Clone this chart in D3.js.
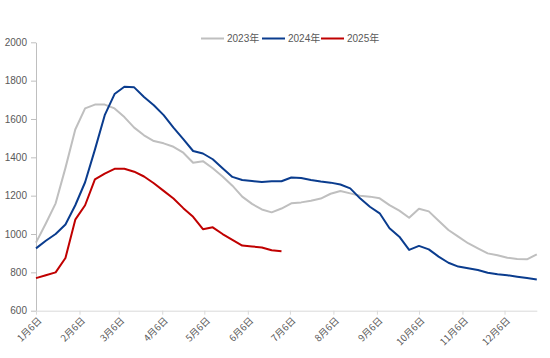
<!DOCTYPE html>
<html>
<head>
<meta charset="utf-8">
<script src="https://cdn.jsdelivr.net/npm/d3@7"></script>
<style>
html,body{margin:0;padding:0;background:#fff;}
svg{display:block;}
text{font-family:"Liberation Sans","Noto Sans CJK SC",sans-serif;fill:#595959;}
</style>
</head>
<body>
<svg id="chart" width="550" height="358"></svg>
<script>
// ---- data ----
const seriesNames = ["2023年", "2024年", "2025年"];
const seriesColors = ["#bfbfbf", "#0a3c8e", "#c00000"];
const values2023 = [955,1055,1160,1345,1545,1655,1675,1675,1655,1610,1555,1515,1485,1473,1455,1424,1372,1380,1343,1300,1252,1195,1157,1128,1113,1133,1160,1165,1174,1185,1210,1224,1212,1200,1195,1186,1151,1122,1085,1132,1118,1069,1021,986,952,925,899,889,876,870,868,894];
const values2024 = [925,965,1000,1050,1150,1270,1440,1620,1730,1768,1765,1715,1672,1620,1555,1495,1433,1420,1390,1343,1298,1282,1276,1271,1275,1275,1295,1292,1282,1274,1268,1258,1238,1186,1142,1108,1030,986,917,938,920,882,850,830,821,812,798,790,785,777,770,763];
const values2025 = [770,785,800,875,1075,1150,1285,1315,1340,1340,1325,1300,1265,1225,1185,1135,1090,1025,1035,1000,970,940,935,930,915,910];
const tickMonths = [1,2,3,4,5,6,7,8,9,10,11,12];
const tickLabels = ["1月6日","2月6日","3月6日","4月6日","5月6日","6月6日","7月6日","8月6日","9月6日","10月6日","11月6日","12月6日"];
const yTicks = [600,800,1000,1200,1400,1600,1800,2000];

const allSeries = [values2023, values2024, values2025];

// weekly dates starting Jan 6
const start = new Date(2025, 0, 6);
const weekDate = i => d3.timeDay.offset(start, 7 * i);

const svg = d3.select("#chart");
const x = d3.scaleTime().domain([start, weekDate(51)]).range([36, 536.8]);
const y = d3.scaleLinear().domain([600, 2000]).range([310.7, 42.3]);

// y axis
const yAxis = svg.append("g").attr("transform", "translate(36,0)")
  .call(d3.axisLeft(y).tickValues(yTicks).tickSize(5).tickSizeOuter(0).tickPadding(4)
    .tickFormat(d3.format("d")));
yAxis.select(".domain").attr("stroke", "#bfbfbf").attr("stroke-width", 1);
yAxis.selectAll(".tick line").attr("stroke", "#bfbfbf");
yAxis.selectAll(".tick text").style("font-size", "10px").attr("fill", "#595959")
  .style("font-family", "'Liberation Sans',sans-serif");

// x axis
const tickDates = tickMonths.map(m => new Date(2025, m - 1, 6));
const xAxis = svg.append("g").attr("transform", "translate(0,310.7)")
  .call(d3.axisBottom(x).tickValues(tickDates).tickSize(4).tickSizeOuter(0)
    .tickFormat((d, i) => tickLabels[i]));
xAxis.select(".domain").attr("stroke", "#d9d9d9").attr("stroke-width", 1);
xAxis.selectAll(".tick line").attr("stroke", "#d9d9d9");
xAxis.selectAll(".tick text")
  .style("font-size", "9.5px")
  .style("font-family", "'Noto Sans CJK SC',sans-serif")
  .attr("fill", "#595959")
  .attr("text-anchor", "end")
  .attr("dy", "0.35em")
  .attr("transform", "translate(2,4) rotate(-45)")
  .attr("x", -2).attr("y", 4);

// lines
const line = d3.line().x((d, i) => x(weekDate(i))).y(d => y(d));
allSeries.forEach((vals, k) => {
  svg.append("path").datum(vals)
    .attr("fill", "none")
    .attr("stroke", seriesColors[k])
    .attr("stroke-width", 2)
    .attr("stroke-linejoin", "round")
    .attr("d", line);
});

// legend
const legendX = [201, 262, 321];
const lg = svg.append("g");
seriesNames.forEach((name, k) => {
  const g = lg.append("g").attr("transform", `translate(${legendX[k]},38.5)`);
  g.append("line").attr("x1", 0).attr("x2", 23).attr("y1", 0).attr("y2", 0)
    .attr("stroke", seriesColors[k]).attr("stroke-width", 2);
  g.append("text").attr("x", 26).attr("y", 0).attr("dy", "0.35em")
    .style("font-size", "10px")
    .style("font-family", "'Liberation Sans','Noto Sans CJK SC',sans-serif")
    .text(name);
});
</script>
</body>
</html>
